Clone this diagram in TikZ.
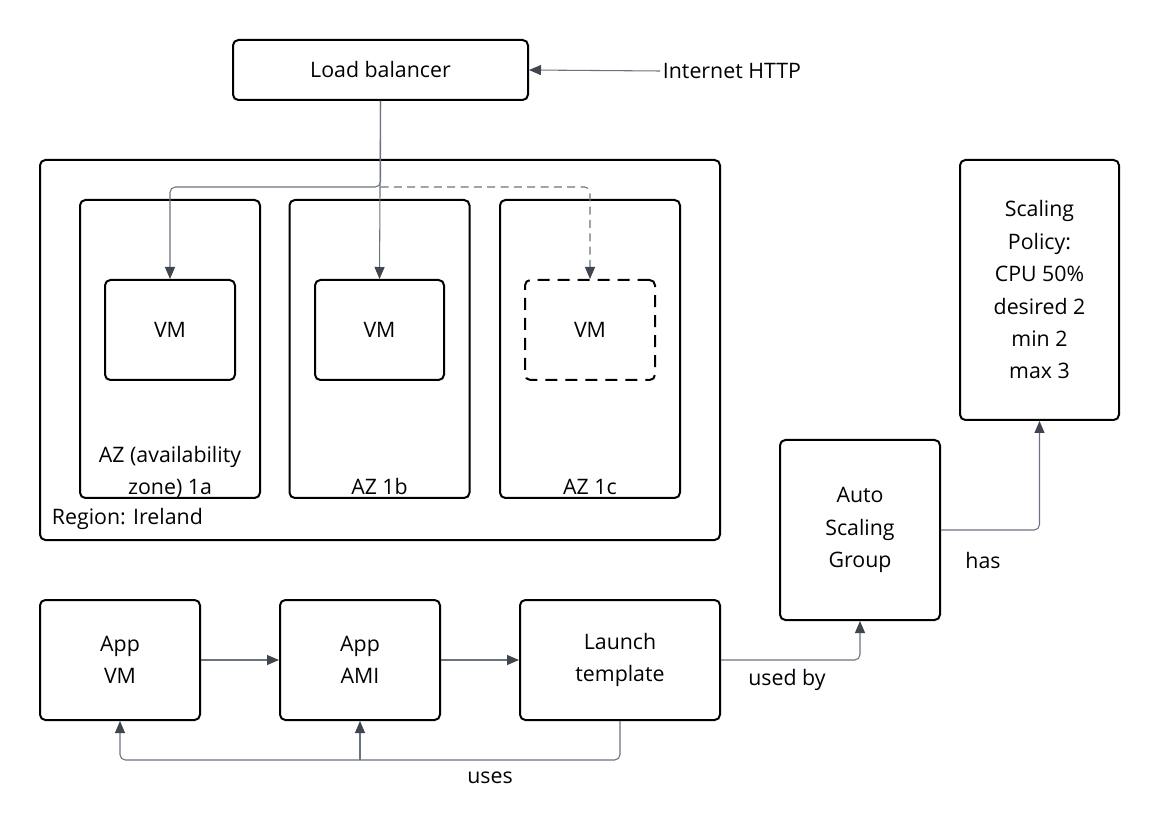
\documentclass[tikz,border=0pt]{standalone}
\usepackage{fontspec}
\setmainfont{Open Sans}
\usetikzlibrary{arrows.meta}
\definecolor{linegray}{HTML}{6B7280}
\definecolor{tipgray}{HTML}{3F4650}

\begin{document}
\begin{tikzpicture}[x=0.75pt,y=-0.75pt,
    every node/.style={font=\fontsize{16}{24.3}\selectfont},
    box/.style={draw,line width=1.5pt,rounded corners=4pt,align=center,inner sep=0pt},
    sz/.style 2 args={minimum width=#1*0.75pt,minimum height=#2*0.75pt},
    txt/.style={inner sep=2pt,align=center},
    conn/.style={draw=linegray,line width=0.8pt,rounded corners=4pt,
                 -{Triangle[length=9pt,width=7.5pt,color=tipgray]}}]
  \useasboundingbox (0,0) rectangle (1160,837);

  \node[box,sz={295}{60}] (LB) at (380.5,70) {Load balancer};
  \node[txt,anchor=west] (inet) at (660,71) {Internet HTTP};

  \node[box,sz={680}{380}] (region) at (380,350) {};
  \node[txt,anchor=base west] (regionlbl) at (49,525) {Region: Ireland};

  \foreach \cx/\nm in {170/a,379.5/b,590/c}
           {
             \node[box,sz={180}{298}] (AZ\nm) at (\cx,349) {};
           }
  \node[txt,anchor=base] (AZalbl) at (170,495) {AZ (availability\\zone) 1a};
  \node[txt,anchor=base] (AZblbl) at (379.5,495) {AZ 1b};
  \node[txt,anchor=base] (AZclbl) at (590,495) {AZ 1c};

  \node[box,sz={130}{100}] (VMa) at (170,330) {VM};
  \node[box,sz={129}{100}] (VMb) at (379.5,330) {VM};
  \node[box,sz={130}{100},dash pattern=on 9pt off 6pt] (VMc) at (590,330) {VM};

  \node[box,sz={159}{260}] (SP) at (1039.5,290)
       {Scaling\\Policy:\\CPU 50\%\\desired 2\\min 2\\max 3};
  \node[box,sz={160}{180}] (ASG) at (860,530) {Auto\\Scaling\\Group};

  \node[box,sz={160}{120}] (AVM) at (120,660) {App\\VM};
  \node[box,sz={160}{120}] (AAMI) at (360,660) {App\\AMI};
  \node[box,sz={200}{120}] (LT) at (620,660) {Launch\\template};

  \coordinate (split) at (380.5,187);
  \coordinate (usesline) at (360,760);

  \draw[conn] (inet.west) -- (LB.east);
  \draw[conn] (LB.south) -- (split) -| (VMa.north);
  \draw[conn] (LB.south) -- (VMb.north);
  \draw[conn,dash pattern=on 6pt off 4pt] (split) -| (VMc.north);

  \draw[conn] (AVM.east) -- (AAMI.west);
  \draw[conn] (AAMI.east) -- (LT.west);
  \draw[conn] (LT.east) -| (ASG.south);
  \draw[conn] (ASG.east) -| (SP.south);
  \draw[conn] (LT.south) |- (usesline) -| (AVM.south);
  \draw[conn] (usesline) -- (AAMI.south);

  \node[txt] (usedby) at (787,680) {used by};
  \node[txt] (has) at (983,560) {has};
  \node[txt] (uses) at (490,778) {uses};
\end{tikzpicture}
\end{document}
